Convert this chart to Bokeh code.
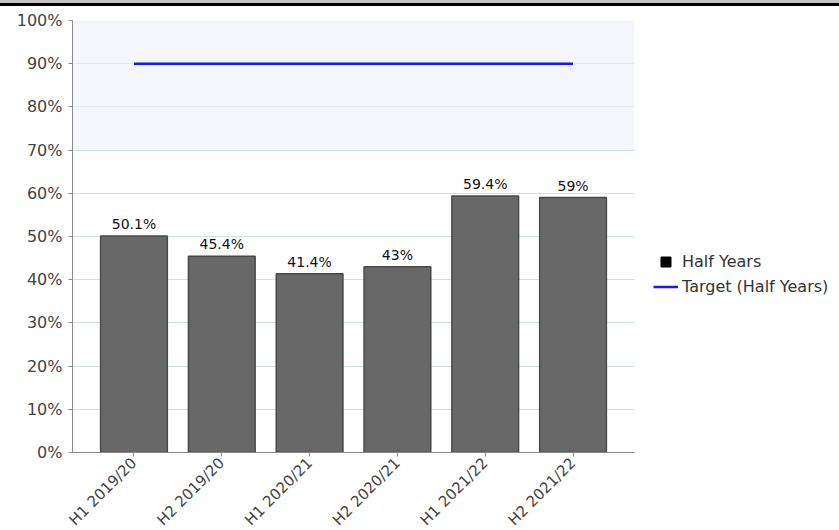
from math import pi
from bokeh.plotting import figure
from bokeh.models import (FactorRange, Range1d, FixedTicker, NumeralTickFormatter,
                          Legend, LegendItem, BoxAnnotation, Div, ColumnDataSource)
from bokeh.layouts import column
from bokeh.embed import file_html
from bokeh.resources import INLINE
from bokeh.core.properties import value

categories = ["H1 2019/20", "H2 2019/20", "H1 2020/21", "H2 2020/21", "H1 2021/22", "H2 2021/22"]
half_years = [0.501, 0.454, 0.414, 0.43, 0.594, 0.59]
value_labels = ["50.1%", "45.4%", "41.4%", "43%", "59.4%", "59%"]
target = [0.9, 0.9, 0.9, 0.9, 0.9, 0.9]
y_ticks = [0.0, 0.1, 0.2, 0.3, 0.4, 0.5, 0.6, 0.7, 0.8, 0.9, 1.0]

FONT = "DejaVu Sans"

src = ColumnDataSource(dict(x=categories, top=half_years, label=value_labels, target=target))

p = figure(frame_width=562, frame_height=432, output_backend="svg", toolbar_location=None,
           x_range=FactorRange(factors=categories, range_padding=0.2, range_padding_units="absolute"),
           y_range=Range1d(0, 1),
           min_border_left=72, min_border_right=0, min_border_top=14, min_border_bottom=78)
p.outline_line_color = None
p.background_fill_color = "white"

p.add_layout(BoxAnnotation(bottom=0.7, top=1.0, fill_color="#eef0fa", fill_alpha=0.6, line_color=None, level="underlay"))

p.xgrid.grid_line_color = None
p.ygrid.ticker = FixedTicker(ticks=y_ticks)
p.ygrid.grid_line_color = "#cfe2df"

bars = p.vbar(x="x", top="top", width=0.76, source=src, fill_color="#686868", line_color="#4a4a4a", line_width=1.5)
tline = p.line(x="x", y="target", source=src, line_color="#1a1aee", line_width=2.5)
p.text(x="x", y="top", text="label", source=src, text_align="center", text_baseline="bottom",
       y_offset=-4, text_font=value(FONT), text_font_size="14px", text_color="#111111")

dummy = p.scatter(x=[categories[0]], y=[-1], marker="square", size=12, color="black")

p.yaxis.ticker = FixedTicker(ticks=y_ticks)
p.yaxis.formatter = NumeralTickFormatter(format="0%")
for ax in (p.xaxis, p.yaxis):
    ax.axis_line_color = "#8a8a8a"
    ax.major_tick_line_color = "#8a8a8a"
    ax.minor_tick_line_color = None
    ax.major_tick_in = 0
    ax.major_tick_out = 4
    ax.major_label_text_font = FONT
    ax.major_label_text_color = "#444444"
p.yaxis.major_label_text_font_size = "16px"
p.yaxis.major_label_standoff = 6
p.xaxis.major_label_text_font_size = "15px"
p.xaxis.major_label_orientation = pi / 4
p.xaxis.major_label_standoff = 4

legend = Legend(items=[LegendItem(label="Half Years", renderers=[dummy]),
                       LegendItem(label="Target (Half Years)", renderers=[tline])],
                location=(19, 153), orientation="vertical",
                label_text_font=FONT, label_text_font_size="16px", label_text_color="#333333",
                glyph_width=25, glyph_height=25, label_height=16, spacing=-2, padding=0, margin=0,
                label_standoff=4, border_line_color=None, background_fill_alpha=0)
p.add_layout(legend, "right")

top_bar = Div(width=839, height=6, styles={"background": "linear-gradient(#c4c4c4 50%, #000000 50%)", "margin": "0"})
layout = column(top_bar, p, spacing=0)

open("out.html", "w").write(file_html(layout, INLINE))
